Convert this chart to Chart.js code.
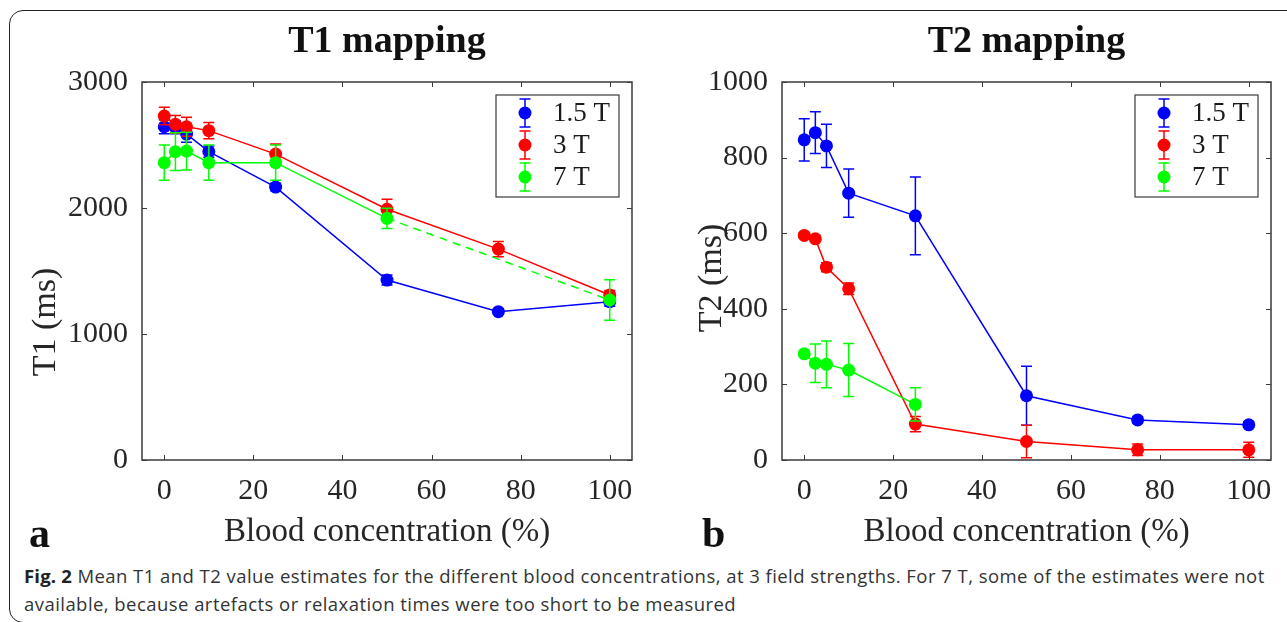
<!DOCTYPE html>
<html>
<head>
<meta charset="utf-8">
<script src="https://cdn.jsdelivr.net/npm/chart.js@4.4.1/dist/chart.umd.min.js"></script>
<style>
  html, body { margin: 0; padding: 0; background: #fff; }
  body { width: 1287px; height: 622px; position: relative; overflow: hidden; }
  #frame {
    position: absolute; left: 9px; top: 10px; width: 1300px; height: 613px;
    border: 1.5px solid #222; border-radius: 14px; box-sizing: border-box;
  }
  #c1 { position: absolute; left: 0; top: 0; width: 650px; height: 560px; }
  #c2 { position: absolute; left: 650px; top: 0; width: 637px; height: 560px; }
  .panel { position: absolute; font-family: 'Liberation Serif', serif; font-weight: bold; font-size: 42px; color: #111; line-height: 1; }
  #caption {
    position: absolute; left: 24px; top: 562px; white-space: nowrap;
    font-family: 'Open Sans', sans-serif; font-size: 18.5px; letter-spacing: 0.45px; line-height: 28px; color: #333;
  }
  #caption b { color: #222; letter-spacing: 0.2px; }
</style>
</head>
<body>
<div id="frame"></div>
<canvas id="c1" width="650" height="560"></canvas>
<canvas id="c2" width="637" height="560"></canvas>
<div class="panel" style="left:29px; top:512px;">a</div>
<div class="panel" style="left:702px; top:512px;">b</div>
<div id="caption"><b>Fig. 2</b> Mean T1 and T2 value estimates for the different blood concentrations, at 3 field strengths. For 7 T, some of the estimates were not<br>available, because artefacts or relaxation times were too short to be measured</div>

<script>
// blood concentration (%)
const conc = [0, 2.5, 5, 10, 25, 50, 75, 100];
const xTicks = [0, 20, 40, 60, 80, 100];

// T1 (ms), mean and error
const t1_15 = [2645, 2640, 2587, 2447, 2166, 1428, 1177, 1256];
const t1_15err = [55, 50, 65, 45, 30, 40, 20, 35];
const t1_3 = [2730, 2664, 2645, 2614, 2428, 1990, 1674, 1310];
const t1_3err = [70, 70, 75, 65, 80, 80, 60, 35];
const t1_7 = [2360, 2447, 2452, 2360, 2360, 1918, null, 1270];
const t1_7err = [140, 150, 150, 140, 140, 80, null, 160];

// T2 (ms), mean and error
const t2_15 = [847, 866, 831, 706, 646, 170, 106, 93];
const t2_15err = [56, 55, 57, 64, 103, 78, 8, 8];
const t2_3 = [594, 585, 510, 453, 95, 49, 27, 27];
const t2_3err = [6, 6, 12, 15, 20, 43, 15, 20];
const t2_7 = [281, 256, 253, 238, 147, null, null, null];
const t2_7err = [5, 51, 62, 70, 44, null, null, null];

const fieldLabels = ['1.5 T', '3 T', '7 T'];
const fieldColors = ['#0000ff', '#ff0000', '#00ff00'];

Chart.defaults.font.family = "'Liberation Serif', serif";
Chart.defaults.color = '#262626';

const axisColor = '#3a3a3a';

// errorbars, inward ticks, box, y label and legend (MATLAB look)
const matlabPlugin = {
  id: 'matlab',
  afterDatasetDraw(chart, args) {
    const ds = chart.data.datasets[args.index];
    const errs = ds.errors;
    if (!errs) return;
    const ctx = chart.ctx;
    const xs = chart.scales.x, ys = chart.scales.y;
    ctx.save();
    ctx.strokeStyle = ds.borderColor;
    ctx.lineWidth = 1.5;
    ds.data.forEach((p, i) => {
      if (p.y == null || errs[i] == null) return;
      const x = xs.getPixelForValue(p.x);
      const y1 = ys.getPixelForValue(p.y - errs[i]);
      const y2 = ys.getPixelForValue(p.y + errs[i]);
      ctx.beginPath();
      ctx.moveTo(x, y1); ctx.lineTo(x, y2);
      ctx.moveTo(x - 5.5, y1); ctx.lineTo(x + 5.5, y1);
      ctx.moveTo(x - 5.5, y2); ctx.lineTo(x + 5.5, y2);
      ctx.stroke();
    });
    ctx.restore();
  },
  afterDraw(chart, args, opts) {
    const ctx = chart.ctx;
    const ca = chart.chartArea;
    const xs = chart.scales.x, ys = chart.scales.y;
    ctx.save();
    ctx.strokeStyle = axisColor;
    ctx.lineWidth = 1.5;
    ctx.strokeRect(ca.left, ca.top, ca.right - ca.left, ca.bottom - ca.top);
    ctx.lineWidth = 1;
    ctx.beginPath();
    xs.ticks.forEach(t => {
      const x = Math.round(xs.getPixelForValue(t.value)) + 0.5;
      ctx.moveTo(x, ca.bottom); ctx.lineTo(x, ca.bottom - 5);
      ctx.moveTo(x, ca.top); ctx.lineTo(x, ca.top + 5);
    });
    ys.ticks.forEach(t => {
      const y = Math.round(ys.getPixelForValue(t.value)) + 0.5;
      ctx.moveTo(ca.left, y); ctx.lineTo(ca.left + 5, y);
      ctx.moveTo(ca.right, y); ctx.lineTo(ca.right - 5, y);
    });
    ctx.stroke();

    // y axis label
    ctx.save();
    ctx.translate(opts.yLabelX, opts.yLabelY);
    ctx.rotate(-Math.PI / 2);
    ctx.fillStyle = '#262626';
    ctx.font = "34px 'Liberation Serif', serif";
    ctx.textAlign = 'center';
    ctx.textBaseline = 'middle';
    ctx.fillText(opts.yLabel, 0, 0);
    ctx.restore();

    // legend box
    const bw = 123, bh = 102;
    const bx = ca.right - 13 - bw, by = ca.top + 13;
    ctx.fillStyle = '#fff';
    ctx.fillRect(bx, by, bw, bh);
    ctx.lineWidth = 1.2;
    ctx.strokeStyle = axisColor;
    ctx.strokeRect(bx, by, bw, bh);
    chart.data.datasets.forEach((ds, i) => {
      const cy = by + 18 + i * 32;
      const mx = bx + 29;
      ctx.strokeStyle = ds.borderColor;
      ctx.fillStyle = ds.borderColor;
      ctx.lineWidth = 1.5;
      ctx.beginPath();
      ctx.moveTo(mx, cy - 14); ctx.lineTo(mx, cy + 14);
      ctx.moveTo(mx - 5.5, cy - 14); ctx.lineTo(mx + 5.5, cy - 14);
      ctx.moveTo(mx - 5.5, cy + 14); ctx.lineTo(mx + 5.5, cy + 14);
      ctx.stroke();
      ctx.beginPath();
      ctx.arc(mx, cy, 6.5, 0, Math.PI * 2);
      ctx.fill();
      ctx.fillStyle = '#1a1a1a';
      ctx.font = "27px 'Liberation Serif', serif";
      ctx.textBaseline = 'middle';
      ctx.textAlign = 'left';
      ctx.fillText(ds.label, bx + 57, cy + 1);
    });
    ctx.restore();
  }
};

function series(values, errs, idx, extra) {
  return Object.assign({
    label: fieldLabels[idx],
    data: conc.map((c, i) => ({ x: c, y: values[i] })),
    errors: errs,
    borderColor: fieldColors[idx],
    backgroundColor: fieldColors[idx],
    pointBackgroundColor: fieldColors[idx],
    pointBorderColor: fieldColors[idx],
    borderWidth: 1.5,
    pointRadius: 6.5,
    pointHoverRadius: 6.5,
    pointBorderWidth: 0,
    order: 3 - idx,
    spanGaps: false
  }, extra || {});
}

function makeChart(id, title, yTitle, yMax, yStep, datasets, yWidth, yLabelPos, padRight) {
  return new Chart(document.getElementById(id), {
    type: 'line',
    data: { datasets: datasets },
    plugins: [matlabPlugin],
    options: {
      responsive: false,
      animation: false,
      events: [],
      layout: { padding: { left: 0, right: padRight, top: 0, bottom: 0 } },
      scales: {
        x: {
          type: 'linear',
          min: -5,
          max: 105,
          afterFit: s => { s.height = 100; },
          afterBuildTicks: s => { s.ticks = xTicks.map(v => ({ value: v })); },
          ticks: { includeBounds: false, padding: 13, font: { size: 30 }, color: '#262626', maxRotation: 0, callback: v => String(v) },
          grid: { display: false, drawTicks: false },
          border: { display: false },
          title: { display: true, text: 'Blood concentration (%)', font: { size: 33 }, color: '#262626', padding: { top: 0, bottom: 8 } }
        },
        y: {
          min: 0,
          max: yMax,
          afterFit: s => { s.width = yWidth; },
          ticks: { stepSize: yStep, padding: 14, font: { size: 30 }, color: '#262626', callback: v => String(v) },
          grid: { display: false, drawTicks: false },
          border: { display: false }
        }
      },
      plugins: {
        legend: { display: false },
        tooltip: { enabled: false },
        matlab: { yLabel: yTitle, yLabelX: yLabelPos[0], yLabelY: yLabelPos[1] },
        title: {
          display: true,
          text: title,
          fullSize: false,
          color: '#111',
          font: { size: 38, weight: 'bold' },
          padding: { top: 19, bottom: 17.4 }
        }
      }
    }
  });
}

const dashGap = (ctx, v) => (ctx.p0.skip || ctx.p1.skip) ? v : undefined;

makeChart('c1', 'T1 mapping', 'T1 (ms)', 3000, 1000, [
  series(t1_15, t1_15err, 0),
  series(t1_3, t1_3err, 1),
  series(t1_7, t1_7err, 2, { spanGaps: true, segment: { borderDash: ctx => dashGap(ctx, [8, 6]) } })
], 142, [46, 322], 18);

makeChart('c2', 'T2 mapping', 'T2 (ms)', 1000, 200, [
  series(t2_15, t2_15err, 0),
  series(t2_3, t2_3err, 1),
  series(t2_7, t2_7err, 2)
], 132, [62, 278], 16);
</script>
</body>
</html>
